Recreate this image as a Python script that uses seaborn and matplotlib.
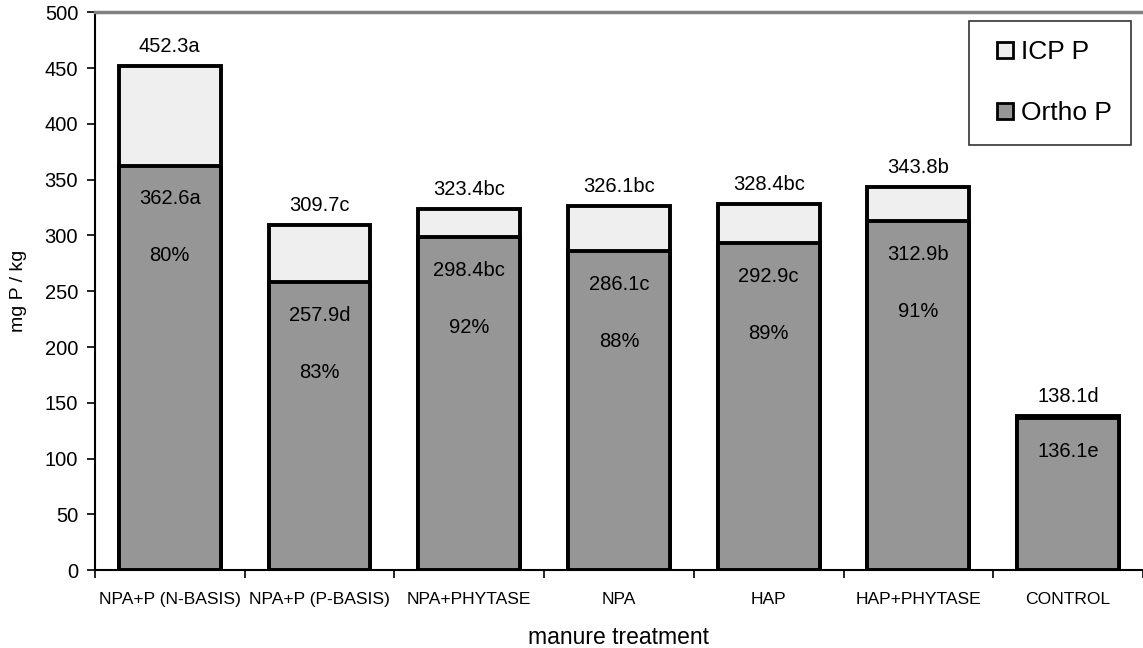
import pandas as pd
import seaborn as sns
import matplotlib.pyplot as plt
from matplotlib.lines import Line2D

# data
treatments = ["NPA+P (N-BASIS)", "NPA+P (P-BASIS)", "NPA+PHYTASE", "NPA",
              "HAP", "HAP+PHYTASE", "CONTROL"]
icp_total = [452.3, 309.7, 323.4, 326.1, 328.4, 343.8, 138.1]
ortho_p = [362.6, 257.9, 298.4, 286.1, 292.9, 312.9, 136.1]
icp_letters = ["a", "c", "bc", "bc", "bc", "b", "d"]
ortho_letters = ["a", "d", "bc", "c", "c", "b", "e"]
ortho_share = ["80%", "83%", "92%", "88%", "89%", "91%", ""]

df = pd.DataFrame({"treatment": treatments, "icp": icp_total, "ortho": ortho_p})

sns.set_style("white")
plt.rcParams['font.family'] = ['Liberation Sans', 'DejaVu Sans']
plt.rcParams['text.color'] = 'black'
plt.rcParams['axes.labelcolor'] = 'black'
plt.rcParams['xtick.color'] = 'black'
plt.rcParams['ytick.color'] = 'black'

fig = plt.figure(figsize=(11.43, 6.48), dpi=100)
ax = fig.add_axes([0.083, 0.12, 0.917, 0.861])

# total (ICP) bar first, then ortho part drawn over it
sns.barplot(data=df, x="treatment", y="icp", color="#efefef", saturation=1,
            width=0.68, edgecolor="black", linewidth=2.8, ax=ax)
sns.barplot(data=df, x="treatment", y="ortho", color="#969696", saturation=1,
            width=0.68, edgecolor="black", linewidth=2.8, ax=ax)

for i in range(len(treatments)):
    ax.annotate(f"{icp_total[i]}{icp_letters[i]}", (i, icp_total[i]),
                xytext=(0, 14), textcoords="offset points",
                ha="center", va="center", fontsize=14.5)
    ax.annotate(f"{ortho_p[i]}{ortho_letters[i]}", (i, ortho_p[i]),
                xytext=(0, -24), textcoords="offset points",
                ha="center", va="center", fontsize=14.5)
    if ortho_share[i]:
        ax.annotate(ortho_share[i], (i, ortho_p[i]),
                    xytext=(0, -65), textcoords="offset points",
                    ha="center", va="center", fontsize=14.5)

ax.set_ylim(0, 500)
ax.set_xlim(-0.5, 6.5)
ax.set_yticks(range(0, 501, 50))
ax.set_xticks(range(7))
ax.set_xticks([k - 0.5 for k in range(8)], minor=True)
ax.tick_params(axis="x", which="major", length=0, pad=16, labelsize=12.6)
ax.tick_params(axis="x", which="minor", length=6, width=1.2, direction="out",
               bottom=True, color="black")
ax.tick_params(axis="y", length=6, width=1.2, direction="out", left=True,
               color="black", labelsize=14.5, pad=6)

ax.set_xlabel("manure treatment", fontsize=16.5, labelpad=13)
ax.set_ylabel("mg P / kg", fontsize=14)
ax.yaxis.set_label_coords(-0.065, 0.5)

ax.spines["left"].set_color("black")
ax.spines["left"].set_linewidth(1.5)
ax.spines["bottom"].set_color("black")
ax.spines["bottom"].set_linewidth(1.5)
ax.spines["top"].set_color("#808080")
ax.spines["top"].set_linewidth(2.5)
ax.spines["right"].set_visible(False)

handles = [Line2D([], [], linestyle="", marker="s", markersize=11,
                  markerfacecolor="#efefef", markeredgecolor="black",
                  markeredgewidth=2, label="ICP P"),
           Line2D([], [], linestyle="", marker="s", markersize=11,
                  markerfacecolor="#969696", markeredgecolor="black",
                  markeredgewidth=2, label="Ortho P")]
leg = ax.legend(handles=handles, loc="upper right", bbox_to_anchor=(0.989, 0.985),
                fontsize=19, frameon=True, fancybox=False, handlelength=1.2,
                handletextpad=0.0, labelspacing=1.4,
                borderpad=0.75, borderaxespad=0)
leg.get_frame().set_edgecolor("black")
leg.get_frame().set_linewidth(1.2)

fig.savefig("out.png", dpi=100)
